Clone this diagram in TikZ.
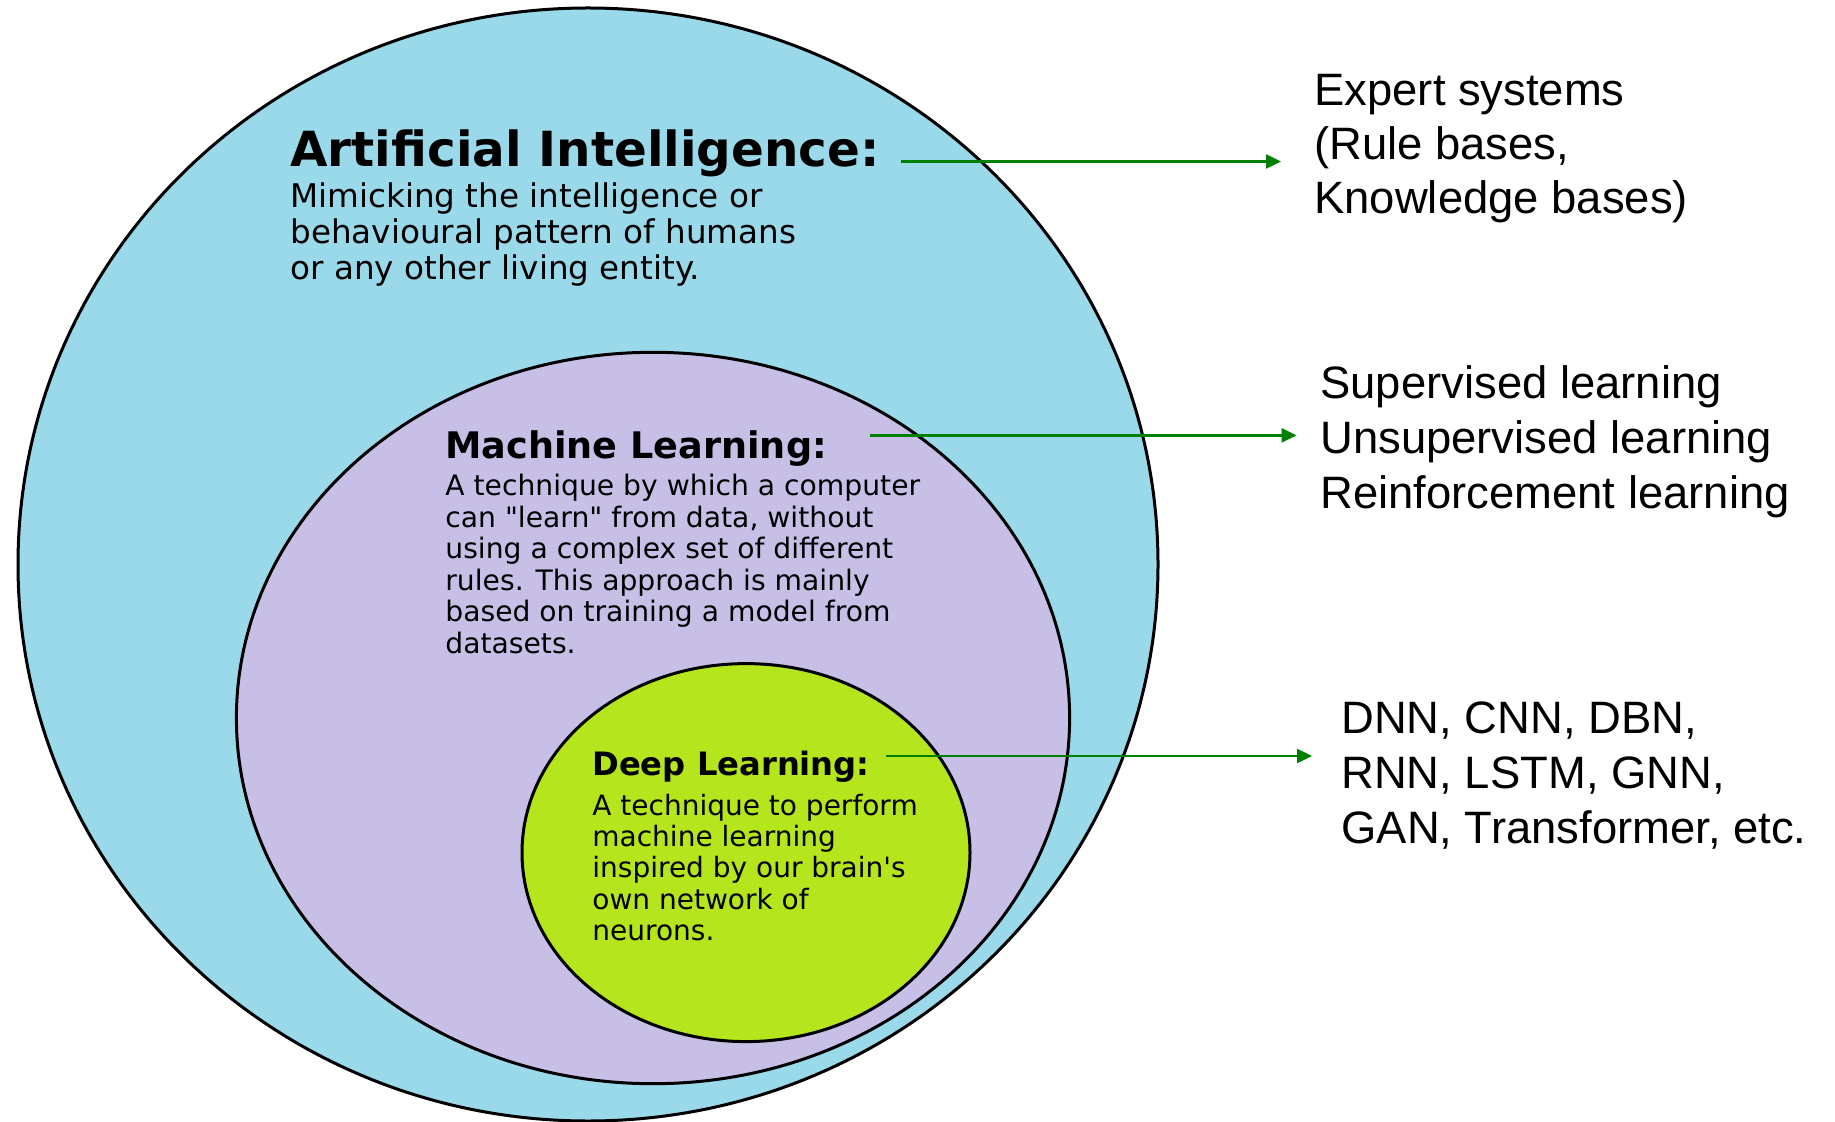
\documentclass[tikz,border=0pt]{standalone}
\usepackage{fontspec}
\usepackage{tikz}
\usetikzlibrary{arrows.meta}
\newfontfamily\djv{DejaVu Sans}
\newfontfamily\arl{Liberation Sans}
\definecolor{aiblue}{RGB}{153,217,234}
\definecolor{mlpurple}{RGB}{200,191,231}
\definecolor{dllime}{RGB}{181,230,29}
\definecolor{arrgreen}{RGB}{0,128,0}

\begin{document}
\begin{tikzpicture}[x=0.5pt,y=0.5pt,yscale=-1,xscale=1,
  blob/.style={draw=black,line width=1.5pt},
  txt/.style={inner sep=0pt,align=left,text=black},
  arr/.style={draw=arrgreen,line width=1.2pt,-{Triangle[length=7.5pt,width=7pt]}}]
\useasboundingbox (0,0) rectangle (1835,1122);

%Shape: Ellipse [AI]
\draw [blob,fill=aiblue] (588,564.5) ellipse (570 and 556.5);
%Shape: Ellipse [ML]
\draw [blob,fill=mlpurple] (653,718) ellipse (416.6 and 365.7);
%Shape: Ellipse [DL]
\draw [blob,fill=dllime] (746,852.6) ellipse (224 and 189);

% Text Node
\node (aiHead) [txt,anchor=base west,font=\djv\bfseries\fontsize{24.2pt}{29pt}\selectfont] at (290,167) {Artificial Intelligence:};
% Text Node
\node (aiText) [txt,anchor=north west,font=\djv\fontsize{16.3pt}{18.1pt}\selectfont] at (290,182) {Mimicking the intelligence or\\behavioural pattern of humans\\or any other living entity.};
% Text Node
\node (mlHead) [txt,anchor=base west,font=\djv\bfseries\fontsize{18.3pt}{22pt}\selectfont] at (445,458.5) {Machine Learning:};
% Text Node
\node (mlText) [txt,anchor=north west,font=\djv\fontsize{14.1pt}{15.75pt}\selectfont] at (445,474) {A technique by which a computer\\can "learn" from data, without\\using a complex set of different\\rules. This approach is mainly\\based on training a model from\\datasets.};
% Text Node
\node (dlHead) [txt,anchor=base west,font=\djv\bfseries\fontsize{16.1pt}{19pt}\selectfont] at (592,775) {Deep Learning:};
% Text Node
\node (dlText) [txt,anchor=north west,font=\djv\fontsize{14pt}{15.7pt}\selectfont] at (592,793.5) {A technique to perform\\machine learning\\inspired by our brain's\\own network of\\neurons.};

% Text Node
\node (expert) [txt,anchor=north west,font=\arl\fontsize{22.7pt}{27.2pt}\selectfont] at (1314,73.5) {Expert systems\\(Rule bases,\\Knowledge bases)};
% Text Node
\node (learnTypes) [txt,anchor=north west,font=\arl\fontsize{22.7pt}{27.5pt}\selectfont] at (1320,365) {Supervised learning\\Unsupervised learning\\Reinforcement learning};
% Text Node
\node (dlModels) [txt,anchor=north west,font=\arl\fontsize{22.7pt}{27.5pt}\selectfont] at (1341,701) {DNN, CNN, DBN,\\RNN, LSTM, GNN,\\GAN, Transformer, etc.};

%Straight Lines [arrows]
\coordinate (aiFrom) at (901,161.5);
\coordinate (mlFrom) at (869.5,435.4);
\coordinate (dlFrom) at (886,756);
\draw [arr,shorten >=16.5pt] (aiFrom) -- (aiFrom -| expert.west);
\draw [arr,shorten >=11.7pt] (mlFrom) -- (mlFrom -| learnTypes.west);
\draw [arr,shorten >=14.5pt] (dlFrom) -- (dlFrom -| dlModels.west);
\end{tikzpicture}
\end{document}
